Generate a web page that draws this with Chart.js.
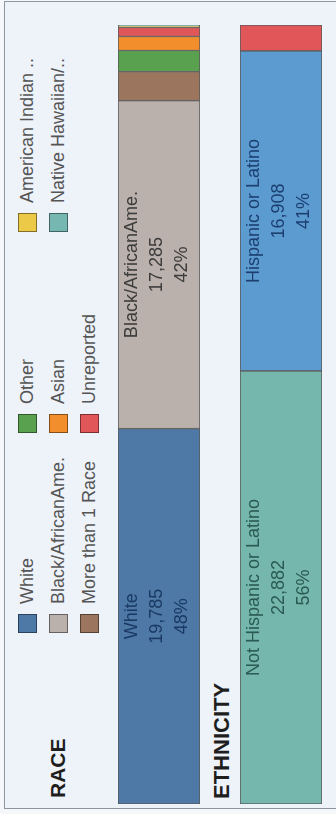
<!DOCTYPE html>
<html>
<head>
<meta charset="utf-8">
<script src="https://cdn.jsdelivr.net/npm/chart.js@4.4.1/dist/chart.umd.min.js"></script>
<style>
  html, body { margin: 0; padding: 0; background: #f5f7fb; overflow: hidden; }
  body { width: 336px; height: 814px; position: relative; font-family: "Liberation Sans", Arial, sans-serif; }
  /* the dashboard is laid out 814 wide and turned a quarter left */
  #rot { position: absolute; left: 0; top: 0; width: 814px; height: 336px;
         transform-origin: 0 0; transform: translateY(814px) rotate(-90deg); }
  #frame { position: absolute; left: 5px; top: 4px; width: 806px; height: 345px;
           background: #eef2f9; border: 1px solid #8c96a0; }
  .title { position: absolute; font-weight: bold; color: #1e1e1e; line-height: 1; }
  .item { position: absolute; height: 19px; }
  .sw { position: absolute; left: 0; top: 0; width: 17px; height: 17px; border: 1px solid rgba(0,0,0,0.45); }
  .lt { position: absolute; left: 29px; top: 0; line-height: 19px; font-size: 18px; color: #555; white-space: nowrap; }
  .bar { position: absolute; left: 10px; width: 779px; height: 82px; }
</style>
</head>
<body>
<div id="rot">
  <div id="frame"></div>
  <div class="title" style="left:16px; top:47px; font-size:21px;">RACE</div>
  <div class="title" style="left:15px; top:211px; font-size:22px;">ETHNICITY</div>
  <div id="legend"></div>
  <div class="bar" style="top:118px;"><canvas id="raceChart" width="779" height="82"></canvas></div>
  <div class="bar" style="top:240px;"><canvas id="ethChart" width="779" height="82"></canvas></div>
</div>
<script>
// race, in the order the bar stacks it
const raceLabels = ['White', 'Black/AfricanAme.', 'More than 1 Race', 'Other', 'Asian', 'Unreported', 'American Indian ..', 'Native Hawaiian/..'];
const raceValues = [19785, 17285, 1530, 1110, 740, 475, 80, 50];
const raceColors = ['#4e79a7', '#bab0ac', '#9c755f', '#59a14f', '#f28e2b', '#e15759', '#edc948', '#76b7b2'];
const raceText = ['#1b3a63', '#3c3c3c'];

const ethnicityLabels = ['Not Hispanic or Latino', 'Hispanic or Latino', 'Unreported'];
const ethnicityValues = [22882, 16908, 1370];
const ethnicityColors = ['#76b7ad', '#5b9bd0', '#e15759'];
const ethnicityText = ['#2a5a53', '#1c3f70'];

// legend, three rows per column
var legend = document.getElementById('legend');
var colX = [181, 381, 582];
var rowY = [18, 49, 80];
raceLabels.forEach(function (name, i) {
  var it = document.createElement('div');
  it.className = 'item';
  it.style.left = colX[Math.floor(i / 3)] + 'px';
  it.style.top = rowY[i % 3] + 'px';
  it.innerHTML = '<div class="sw" style="background:' + raceColors[i] + '"></div><div class="lt"></div>';
  it.querySelector('.lt').textContent = name;
  legend.appendChild(it);
});

// writes name / count / percent inside the wide segments
const segLabels = {
  id: 'segLabels',
  afterDatasetsDraw(chart) {
    var ctx = chart.ctx;
    var total = chart.options.scales.x.max;
    ctx.save();
    ctx.font = '18px "Liberation Sans", Arial, sans-serif';
    ctx.textAlign = 'center';
    ctx.textBaseline = 'alphabetic';
    chart.data.datasets.forEach(function (ds, i) {
      var bar = chart.getDatasetMeta(i).data[0];
      if (!bar || Math.abs(bar.x - bar.base) < 100) return;
      var cx = (bar.x + bar.base) / 2;
      var cy = bar.y;
      var v = ds.data[0];
      ctx.fillStyle = ds.textColor;
      ctx.fillText(ds.label, cx, cy - 22);
      ctx.fillText(v.toLocaleString('en-US'), cx, cy + 3);
      ctx.fillText(Math.round(v / total * 100) + '%', cx, cy + 28);
    });
    ctx.restore();
  }
};

function makeBar(id, labels, values, colors, textColors) {
  var total = values.reduce(function (a, b) { return a + b; }, 0);
  var datasets = labels.map(function (name, i) {
    return {
      label: name,
      data: [values[i]],
      backgroundColor: colors[i],
      borderColor: '#5a5a5a',
      borderWidth: 1,
      borderSkipped: false,
      barPercentage: 1,
      categoryPercentage: 1,
      textColor: textColors[i] || '#333'
    };
  });
  new Chart(document.getElementById(id), {
    type: 'bar',
    data: { labels: [''], datasets: datasets },
    options: {
      indexAxis: 'y',
      responsive: false,
      animation: false,
      devicePixelRatio: 1,
      layout: { padding: 0 },
      scales: {
        x: { stacked: true, min: 0, max: total, display: false },
        y: { stacked: true, display: false }
      },
      plugins: { legend: { display: false }, tooltip: { enabled: false } }
    },
    plugins: [segLabels]
  });
}

makeBar('raceChart', raceLabels, raceValues, raceColors, raceText);
makeBar('ethChart', ethnicityLabels, ethnicityValues, ethnicityColors, ethnicityText);
</script>
</body>
</html>
